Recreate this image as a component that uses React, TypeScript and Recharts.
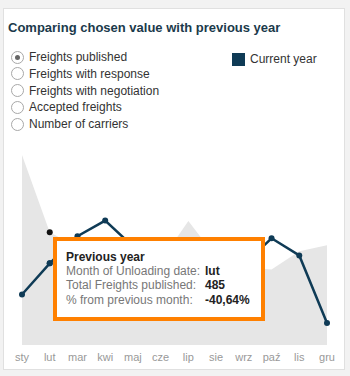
import { ComposedChart, Area, Line, XAxis, YAxis, Tooltip } from "recharts";

const months = ["sty", "lut", "mar", "kwi", "maj", "cze", "lip", "sie", "wrz", "paź", "lis", "gru"];
const currentYear = [217, 351, 468, 535, 424, 380, 390, 360, 346, 459, 385, 95];
const previousYear = [817, 485, 420, 400, 380, 360, 533, 377, 333, 325, 403, 429];
const options = ["Freights published", "Freights with response", "Freights with negotiation", "Accepted freights", "Number of carriers"];

const navy = "#0f3b56";
const font = "'Liberation Sans', Arial, sans-serif";

const data = months.map((m, i) => ({ month: m, current: currentYear[i], previous: previousYear[i] }));

function PrevTooltip({ label }: any) {
  const i = months.indexOf(label);
  if (i < 0) return null;
  const prev = previousYear[i];
  const before = i > 0 ? previousYear[i - 1] : prev;
  const pct = ((prev - before) / before) * 100;
  const rows = [
    ["Month of Unloading date:", label],
    ["Total Freights published:", String(prev)],
    ["% from previous month:", pct.toFixed(2).replace(".", ",") + "%"],
  ];
  return (
    <div style={{ width: 195, height: 67, border: "4px solid #ff8000", background: "#fff", padding: "9px 0 0 9px", boxSizing: "content-box", fontFamily: font, fontSize: 12, lineHeight: "14.2px" }}>
      <div style={{ fontWeight: "bold", color: "#222" }}>Previous year</div>
      {rows.map(r => (
        <div key={r[0]} style={{ display: "flex" }}>
          <span style={{ width: 139, color: "#777" }}>{r[0]}</span>
          <span style={{ fontWeight: "bold", color: "#222" }}>{r[1]}</span>
        </div>
      ))}
    </div>
  );
}

export default function App() {
  return (
    <div style={{ position: "absolute", left: 0, top: 0, width: 350, height: 376, background: "#f2f2f2", fontFamily: font }}>
      <div style={{ position: "absolute", left: 3, top: 8, width: 340, height: 360, background: "#fff", border: "1px solid #e0e0e0" }} />
      <div style={{ position: "absolute", left: 8, top: 20, fontSize: 13, fontWeight: "bold", color: "#1b3a4b" }}>
        Comparing chosen value with previous year
      </div>
      {options.map((o, i) => (
        <div key={o} style={{ position: "absolute", left: 11, top: 50 + i * 16.8, display: "flex", alignItems: "center", fontSize: 12, color: "#333" }}>
          <span style={{ width: 11, height: 11, borderRadius: "50%", border: "1px solid #a8a8a8", background: "#fff", display: "flex", alignItems: "center", justifyContent: "center", marginRight: 5 }}>
            {i === 0 && <span style={{ width: 5, height: 5, borderRadius: "50%", background: "#666" }} />}
          </span>
          {o}
        </div>
      ))}
      <div style={{ position: "absolute", left: 232, top: 52, display: "flex", alignItems: "center", fontSize: 12, color: "#333" }}>
        <span style={{ width: 13, height: 13, background: navy, marginRight: 5 }} />
        Current year
      </div>
      <div style={{ position: "absolute", left: 0, top: 0 }}>
        <ComposedChart width={350} height={376} data={data} margin={{ top: 155, right: 23, bottom: 11, left: 22 }}>
          <XAxis dataKey="month" scale="point" padding={{ left: 0, right: 0 }} axisLine={false} tickLine={false} height={20}
            interval={0} tick={{ fill: "#999", fontSize: 11, fontFamily: font }} />
          <YAxis hide domain={[0, "dataMax"]} />
          <Area dataKey="previous" type="linear" stroke="none" fill="#e6e6e6" fillOpacity={1} isAnimationActive={false}
            activeDot={{ r: 3, fill: "#111", stroke: "none" }} />
          <Line dataKey="current" type="linear" stroke={navy} strokeWidth={2.5} dot={{ r: 3, fill: navy, stroke: "none" }}
            activeDot={{ r: 3, fill: navy, stroke: "none" }} isAnimationActive={false} />
          <Tooltip active defaultIndex={1} cursor={false} isAnimationActive={false} position={{ x: 53, y: 237 }}
            content={<PrevTooltip />} wrapperStyle={{ outline: "none" }} />
        </ComposedChart>
      </div>
    </div>
  );
}
